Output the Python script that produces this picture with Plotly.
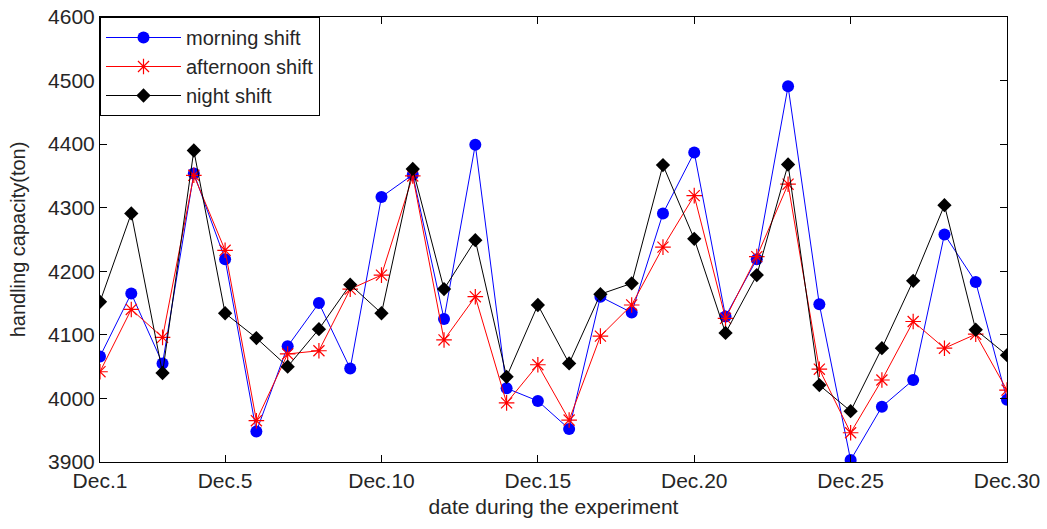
import plotly.graph_objects as go

# Experiment days (December) and handling capacity per shift, in tons
days = list(range(1, 31))
morning = [4066, 4165, 4055, 4354, 4219, 3948, 4082, 4150, 4047, 4317,
           4352, 4125, 4399, 4016, 3996, 3952, 4160, 4135, 4291, 4387,
           4129, 4219, 4491, 4148, 3903, 3987, 4029, 4258, 4183, 3998]
afternoon = [4042, 4140, 4096, 4351, 4233, 3965, 4070, 4075, 4172, 4194,
             4350, 4092, 4160, 3993, 4053, 3966, 4098, 4147, 4238, 4319,
             4126, 4223, 4337, 4046, 3946, 4029, 4121, 4079, 4101, 4013]
night = [4152, 4291, 4040, 4390, 4134, 4095, 4050, 4109, 4179, 4134,
         4361, 4172, 4249, 4034, 4147, 4055, 4164, 4181, 4367, 4251,
         4103, 4194, 4368, 4021, 3980, 4079, 4185, 4304, 4108, 4068]

tick_days = [1, 5, 10, 15, 20, 25, 30]
tick_labels = ["Dec.1", "Dec.5", "Dec.10", "Dec.15", "Dec.20", "Dec.25", "Dec.30"]
y_ticks = [3900, 4000, 4100, 4200, 4300, 4400, 4500, 4600]

FONT = "Liberation Sans, Arial"
TEXT = "#262626"

fig = go.Figure()
fig.add_trace(go.Scatter(
    x=days, y=morning, name="morning shift", mode="lines+markers",
    line=dict(color="#0000ff", width=1),
    marker=dict(symbol="circle", size=12, color="#0000ff"),
))
fig.add_trace(go.Scatter(
    x=days, y=afternoon, name="afternoon shift", mode="lines+markers",
    line=dict(color="#ff0000", width=1),
    marker=dict(symbol="asterisk-open", size=13, color="#ff0000",
                line=dict(color="#ff0000", width=1.2)),
))
fig.add_trace(go.Scatter(
    x=days, y=night, name="night shift", mode="lines+markers",
    line=dict(color="#000000", width=1),
    marker=dict(symbol="diamond", size=11, color="#000000"),
))

axis_common = dict(
    showline=True, linecolor="black", linewidth=1, mirror="ticks",
    ticks="inside", ticklen=7, tickcolor="black", showgrid=False,
    zeroline=False, automargin=False,
    tickfont=dict(family=FONT, size=21, color=TEXT),
)

fig.update_xaxes(
    range=[1, 30], tickvals=tick_days, ticktext=tick_labels,
    title=dict(text="date during the experiment", standoff=8,
               font=dict(family=FONT, size=21, color=TEXT)),
    **axis_common,
)
fig.update_yaxes(
    range=[3900, 4600], tickvals=y_ticks,
    title=dict(text="handling capacity(ton)", standoff=17,
               font=dict(family=FONT, size=20, color=TEXT)),
    **axis_common,
)

fig.update_layout(
    width=1047, height=529,
    margin=dict(l=100, r=40, t=17, b=67),
    paper_bgcolor="white", plot_bgcolor="white",
    showlegend=True,
    legend=dict(
        x=0, y=1, xanchor="left", yanchor="top",
        bgcolor="white", bordercolor="black", borderwidth=1,
        font=dict(family=FONT, size=20, color=TEXT),
        tracegroupgap=0, itemwidth=75,
    ),
)

fig.write_html("out.html")
